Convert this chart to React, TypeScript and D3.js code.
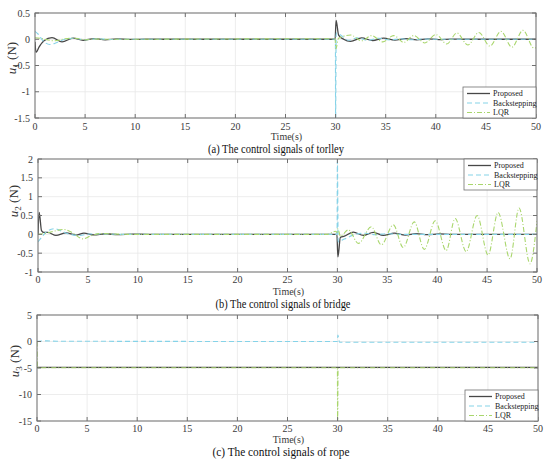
import React from "react";
import * as d3 from "d3";

// ---------- data ----------
const timeTicks = [0, 5, 10, 15, 20, 25, 30, 35, 40, 45, 50];
const u1Ticks = [0.5, 0, -0.5, -1, -1.5];
const u2Ticks = [2, 1.5, 1, 0.5, 0, -0.5, -1];
const u3Ticks = [5, 0, -5, -10, -15];
const seriesNames = ["Proposed", "Backstepping", "LQR"];
const captions = [
  "(a) The control signals of torlley",
  "(b) The control signals of bridge",
  "(c) The control signals of rope",
];
const yLabelIndex = ["1", "2", "3"];

// u1 (trolley)
const u1ProposedT = [0, 0.1, 0.4, 0.9, 1.7, 2.7, 3.8, 4.8, 5.9, 7.0, 8.2, 9.5, 11, 29.95, 30.05, 30.3, 30.8, 31.5, 32.6, 33.7, 34.8, 35.9, 37.0, 38.1, 39.2, 40.3, 41.5, 43, 50];
const u1ProposedV = [-0.05, -0.25, -0.15, -0.03, 0.03, -0.05, 0.02, -0.02, 0.012, -0.01, 0.006, -0.004, 0, 0, 0.36, 0.08, 0.0, -0.04, 0.025, -0.025, 0.02, -0.015, 0.012, -0.01, 0.008, -0.006, 0.004, 0, 0];
const u1BackT = [0, 0.3, 0.8, 1.5, 2.2, 3.0, 3.9, 5, 6.2, 7.5, 9, 29.98, 30.0, 30.06, 30.5, 31.3, 32.2, 33.2, 34.3, 35.4, 36.5, 37.6, 38.8, 40, 50];
const u1BackV = [0.15, 0.1, -0.03, -0.1, -0.06, 0.0, 0.02, -0.01, 0.01, -0.005, 0, 0, -1.55, 0.12, 0.08, -0.02, 0.03, -0.02, 0.02, -0.015, 0.01, -0.01, 0.005, 0, 0];
const u1LqrT = [0, 0.5, 1.2, 2.0, 3.0, 4.0, 5.0, 6.0, 7.0, 29.95, 30.02, 30.3, 31.5, 32.6, 33.6, 34.7, 35.8, 36.8, 37.8, 38.9, 40.0, 41.1, 42.1, 43.2, 44.3, 45.4, 46.5, 47.6, 48.7, 49.8, 50];
const u1LqrV = [0.03, 0.02, -0.01, -0.03, 0.01, 0.02, -0.01, 0.005, 0, 0.01, -0.18, 0.02, 0.08, -0.03, 0.07, -0.05, 0.07, -0.06, 0.07, -0.07, 0.09, -0.09, 0.12, -0.11, 0.13, -0.13, 0.15, -0.15, 0.17, -0.17, -0.16];

// u2 (bridge)
const u2ProposedT = [0, 0.12, 0.35, 0.6, 1.0, 1.8, 2.8, 3.8, 4.6, 5.6, 6.8, 8, 9.5, 11, 29.95, 30.05, 30.3, 30.7, 31.6, 32.6, 33.6, 34.6, 35.7, 36.8, 37.9, 39, 40.2, 41.5, 50];
const u2ProposedV = [0.0, 0.58, 0.1, 0.05, 0.05, -0.03, 0.04, -0.02, 0.03, -0.015, 0.015, -0.01, 0.005, 0, 0, -0.6, -0.08, -0.05, 0.06, -0.03, 0.05, -0.03, 0.03, -0.02, 0.02, -0.01, 0.01, 0, 0];
const u2BackT = [0, 0.3, 0.9, 1.7, 2.4, 3.2, 4.2, 5.2, 6.5, 8, 29.97, 30.0, 30.08, 30.5, 30.9, 31.8, 32.8, 33.8, 35, 36.2, 50];
const u2BackV = [-0.2, -0.1, 0.08, 0.15, 0.08, 0.0, -0.03, 0.01, 0.01, 0, 0, 1.95, -0.2, -0.15, -0.1, 0.0, 0.03, -0.01, 0.02, 0, 0];
const u2LqrT = [0, 0.8, 1.7, 2.6, 3.4, 4.5, 5.3, 6.2, 7.5, 9, 29, 29.8, 29.95, 30.05, 30.3, 31.1, 32.1, 33.4, 34.4, 35.6, 36.6, 37.7, 38.7, 39.8, 40.9, 41.8, 42.9, 44.0, 45.1, 46.1, 47.3, 48.2, 49.3, 50];
const u2LqrV = [0, 0.03, 0.09, 0.13, 0.05, -0.12, -0.04, 0.02, 0.01, 0, 0, 0.08, 0.05, 0.15, -0.05, 0.12, -0.24, 0.2, -0.28, 0.25, -0.35, 0.33, -0.4, 0.36, -0.43, 0.42, -0.46, 0.5, -0.55, 0.58, -0.65, 0.7, -0.78, 0.35];

// u3 (rope)
const u3ProposedT = [0, 30, 50];
const u3ProposedV = [-4.9, -4.9, -4.9];
const u3BackT = [0, 1, 2, 29.98, 30.02, 30.2, 50];
const u3BackV = [0.05, 0.12, 0.05, 0, 1.2, -0.15, -0.15];
const u3LqrT = [0, 0.05, 29.98, 30.0, 30.05, 50];
const u3LqrV = [0, -4.95, -4.95, -15.5, -4.95, -4.95];

// ---------- styling / layout ----------
const W = 550;
const H = 465;
const colors = ["#474747", "#86d3e8", "#a9d66c"];
const dashes = ["none", "5,3", "5,2,1,2"];
const widths = [1.3, 1.1, 1.1];
const axisColor = "#707070";
const gridColor = "#e8e8e8";
const serif = "'Liberation Serif', 'Times New Roman', serif";

type Panel = {
  left: number; right: number; top: number; bottom: number;
  domain: [number, number]; ticks: number[];
  series: [number[], number[]][];
  tickY: number; timeY: number; capY: number; capX: number; capLen: number;
  ylabX: number; ylabY: number;
  legendTop: boolean;
};

const panels: Panel[] = [
  {
    left: 35, right: 536, top: 13, bottom: 118, domain: [-1.5, 0.5], ticks: u1Ticks,
    series: [[u1ProposedT, u1ProposedV], [u1BackT, u1BackV], [u1LqrT, u1LqrV]],
    tickY: 130, timeY: 140, capY: 152.5, capX: 276, capLen: 136, ylabX: 16, ylabY: 58, legendTop: false,
  },
  {
    left: 38, right: 537, top: 159, bottom: 272, domain: [-1, 2], ticks: u2Ticks,
    series: [[u2ProposedT, u2ProposedV], [u2BackT, u2BackV], [u2LqrT, u2LqrV]],
    tickY: 283, timeY: 294.5, capY: 307.5, capX: 283, capLen: 135, ylabX: 18, ylabY: 201, legendTop: true,
  },
  {
    left: 37, right: 538, top: 315, bottom: 421, domain: [-15, 5], ticks: u3Ticks,
    series: [[u3ProposedT, u3ProposedV], [u3BackT, u3BackV], [u3LqrT, u3LqrV]],
    tickY: 432, timeY: 443, capY: 455.5, capX: 281, capLen: 137, ylabX: 19, ylabY: 361, legendTop: false,
  },
];

function PanelView({ p, idx }: { p: Panel; idx: number }) {
  const x = d3.scaleLinear().domain([0, 50]).range([p.left, p.right]);
  const y = d3.scaleLinear().domain(p.domain).range([p.bottom, p.top]);
  const line = d3
    .line<[number, number]>()
    .x((d) => x(d[0]))
    .y((d) => y(d[1]))
    .curve(d3.curveMonotoneX);
  const clipId = `clip${idx}`;
  const tl = 4;
  const legW = 73;
  const legH = 31;
  const legX = p.right - legW;
  const legY = p.legendTop ? p.top : p.bottom - legH;
  return (
    <g>
      <defs>
        <clipPath id={clipId}>
          <rect x={p.left} y={p.top} width={p.right - p.left} height={p.bottom - p.top} />
        </clipPath>
      </defs>
      <rect x={p.left} y={p.top} width={p.right - p.left} height={p.bottom - p.top} fill="#fff" />
      {timeTicks.map((t) => (
        <line key={"gx" + t} x1={x(t)} x2={x(t)} y1={p.top} y2={p.bottom} stroke={gridColor} strokeWidth={0.8} />
      ))}
      {p.ticks.map((t) => (
        <line key={"gy" + t} x1={p.left} x2={p.right} y1={y(t)} y2={y(t)} stroke={gridColor} strokeWidth={0.8} />
      ))}
      <g clipPath={`url(#${clipId})`}>
        {p.series.map(([ts, vs], i) => {
          const pts: [number, number][] = ts.map((t, k) => [t, vs[k]]);
          return (
            <path
              key={i}
              d={line(pts) || ""}
              fill="none"
              stroke={colors[i]}
              strokeWidth={widths[i]}
              strokeDasharray={dashes[i]}
            />
          );
        })}
      </g>
      <rect x={p.left} y={p.top} width={p.right - p.left} height={p.bottom - p.top} fill="none" stroke={axisColor} strokeWidth={1} />
      {timeTicks.map((t) => (
        <g key={"tx" + t}>
          <line x1={x(t)} x2={x(t)} y1={p.bottom} y2={p.bottom - tl} stroke={axisColor} />
          <line x1={x(t)} x2={x(t)} y1={p.top} y2={p.top + tl} stroke={axisColor} />
          <text x={x(t)} y={p.tickY} textAnchor="middle" fontSize={10} fill="#3a3a3a" fontFamily={serif}>
            {t}
          </text>
        </g>
      ))}
      {p.ticks.map((t) => (
        <g key={"ty" + t}>
          <line x1={p.left} x2={p.left + tl} y1={y(t)} y2={y(t)} stroke={axisColor} />
          <line x1={p.right} x2={p.right - tl} y1={y(t)} y2={y(t)} stroke={axisColor} />
          <text x={p.left - 5} y={y(t)} dy="0.35em" textAnchor="end" fontSize={10} fill="#3a3a3a" fontFamily={serif}>
            {t}
          </text>
        </g>
      ))}
      <text x={(p.left + p.right) / 2 + 1} y={p.timeY} textAnchor="middle" fontSize={10} fill="#3a3a3a" fontFamily={serif}>
        Time(s)
      </text>
      <text
        x={p.capX}
        y={p.capY}
        textAnchor="middle"
        fontSize={11.5}
        fill="#111"
        fontFamily={serif}
        textLength={p.capLen}
        lengthAdjust="spacingAndGlyphs"
      >
        {captions[idx]}
      </text>
      <text
        transform={`translate(${p.ylabX},${p.ylabY}) rotate(-90)`}
        textAnchor="middle"
        fontSize={13}
        fill="#333"
        fontFamily={serif}
      >
        <tspan fontStyle="italic">u</tspan>
        <tspan fontSize={9} dy={3}>{yLabelIndex[idx]}</tspan>
        <tspan dy={-3}> (N)</tspan>
      </text>
      <rect x={legX} y={legY} width={legW} height={legH} fill="#fff" stroke={axisColor} strokeWidth={0.8} />
      {seriesNames.map((n, i) => {
        const cy = legY + 6.5 + i * 9.5;
        return (
          <g key={n}>
            <line
              x1={legX + 4}
              x2={legX + 27}
              y1={cy}
              y2={cy}
              stroke={colors[i]}
              strokeWidth={widths[i]}
              strokeDasharray={dashes[i]}
            />
            <text x={legX + 30} y={cy} dy="0.33em" fontSize={8} fill="#222" fontFamily={serif}>
              {n}
            </text>
          </g>
        );
      })}
    </g>
  );
}

export default function App() {
  return (
    <svg
      width={W}
      height={H}
      viewBox={`0 0 ${W} ${H}`}
      style={{ position: "absolute", left: 0, top: 0, background: "#fff" }}
    >
      <rect x={0} y={0} width={W} height={H} fill="#fff" />
      {panels.map((p, i) => (
        <PanelView key={i} p={p} idx={i} />
      ))}
    </svg>
  );
}
